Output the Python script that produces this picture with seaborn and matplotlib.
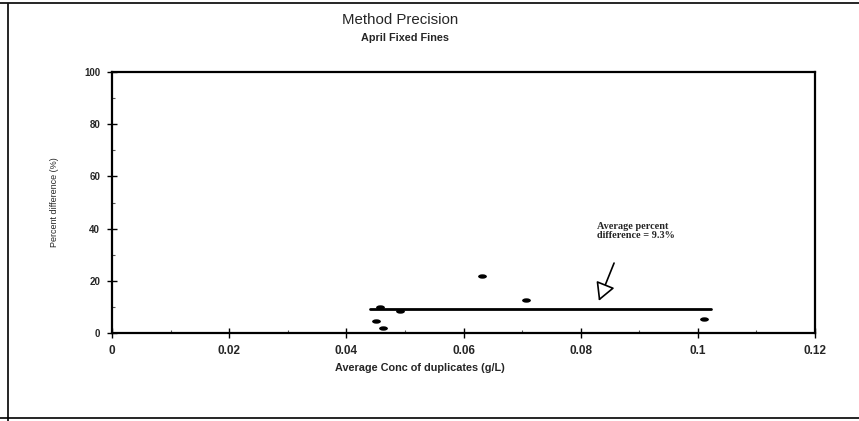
import matplotlib
matplotlib.use("Agg")
import matplotlib.pyplot as plt
from matplotlib.lines import Line2D
from matplotlib.path import Path
from matplotlib.ticker import MultipleLocator, FixedLocator
import seaborn as sns
import pandas as pd

# Duplicate pairs: average concentration (g/L) and percent difference (%)
conc = [0.0450, 0.0463, 0.0458, 0.0491, 0.0631, 0.0706, 0.1010]
pct_diff = [4.5, 1.8, 10.0, 8.5, 22.0, 12.8, 5.5]

# Average percent difference line
avg_value = 9.3
avg_x = [0.0441, 0.1022]

x_ticks = [0, 0.02, 0.04, 0.06, 0.08, 0.1, 0.12]
x_tick_labels = ["0", "0.02", "0.04", "0.06", "0.08", "0.1", "0.12"]
y_ticks = [0, 20, 40, 60, 80, 100]

sns.set_style("ticks")
plt.rcParams["font.family"] = ["Liberation Sans", "DejaVu Sans"]

points = pd.DataFrame({"conc": conc, "pct": pct_diff})
avg_line = pd.DataFrame({"conc": avg_x, "pct": [avg_value] * len(avg_x)})

# flat oval marker, wider than tall
oval = Path.unit_circle().transformed(
    matplotlib.transforms.Affine2D().scale(1.0, 0.5))

fig = plt.figure(figsize=(8.59, 4.21), dpi=100)
ax = fig.add_axes([0.1304, 0.209, 0.8184, 0.620])

sns.lineplot(data=avg_line, x="conc", y="pct", ax=ax, color="black",
             linewidth=2.0, zorder=2)
sns.scatterplot(data=points, x="conc", y="pct", ax=ax, marker=oval,
                s=40, color="black", edgecolor="black", linewidth=0,
                zorder=3)

ax.set_xlim(0, 0.12)
ax.set_ylim(0, 100)
ax.xaxis.set_major_locator(FixedLocator(x_ticks))
ax.set_xticklabels(x_tick_labels, fontsize=8.5, fontweight="bold")
ax.yaxis.set_major_locator(FixedLocator(y_ticks))
ax.set_yticklabels([str(v) for v in y_ticks], fontsize=7,
                   fontweight="bold")
ax.xaxis.set_minor_locator(MultipleLocator(0.01))
ax.yaxis.set_minor_locator(MultipleLocator(10))
ax.tick_params(axis="both", which="major", direction="inout", length=7,
               width=1, color="black")
ax.tick_params(axis="both", which="minor", direction="in", length=2,
               width=0.8, color="#555555")
ax.tick_params(axis="x", pad=5)
ax.tick_params(axis="y", pad=5)

for side in ["left", "right", "top", "bottom"]:
    ax.spines[side].set_visible(True)
    ax.spines[side].set_linewidth(1.6)
    ax.spines[side].set_color("black")

ax.set_xlabel("Average Conc of duplicates (g/L)", fontsize=7.8,
              fontweight="bold", labelpad=4)
ax.xaxis.set_label_coords(0.438, -0.115)
ax.set_ylabel("Percent difference (%)", fontsize=6.5, labelpad=18)

# Annotation for the average line
ax.text(0.0827, 39.0, "Average percent\ndifference = 9.3%", fontsize=7.4,
        family=["Liberation Serif", "DejaVu Serif"], fontweight="bold",
        ha="left", va="center", linespacing=1.05)
ax.annotate("", xy=(0.0831, 12.3), xytext=(0.0857, 26.8),
            arrowprops=dict(arrowstyle="-|>,head_length=1.1,head_width=0.6",
                            facecolor="white", edgecolor="black", lw=1.2,
                            shrinkA=0, shrinkB=0))

fig.text(0.466, 0.952, "Method Precision", ha="center", va="center",
         fontsize=10.8)
fig.text(0.472, 0.910, "April Fixed Fines", ha="center", va="center",
         fontsize=7.8, fontweight="bold")

# Frame around the chart area
fig.add_artist(Line2D([0.0095, 0.0095], [0.0, 0.99], color="black",
                      linewidth=1.2, transform=fig.transFigure))
fig.add_artist(Line2D([0.0, 1.0], [0.992, 0.992], color="black",
                      linewidth=1.2, transform=fig.transFigure))
fig.add_artist(Line2D([0.0, 1.0], [0.007, 0.007], color="black",
                      linewidth=1.2, transform=fig.transFigure))

fig.savefig("out.png", dpi=100)
